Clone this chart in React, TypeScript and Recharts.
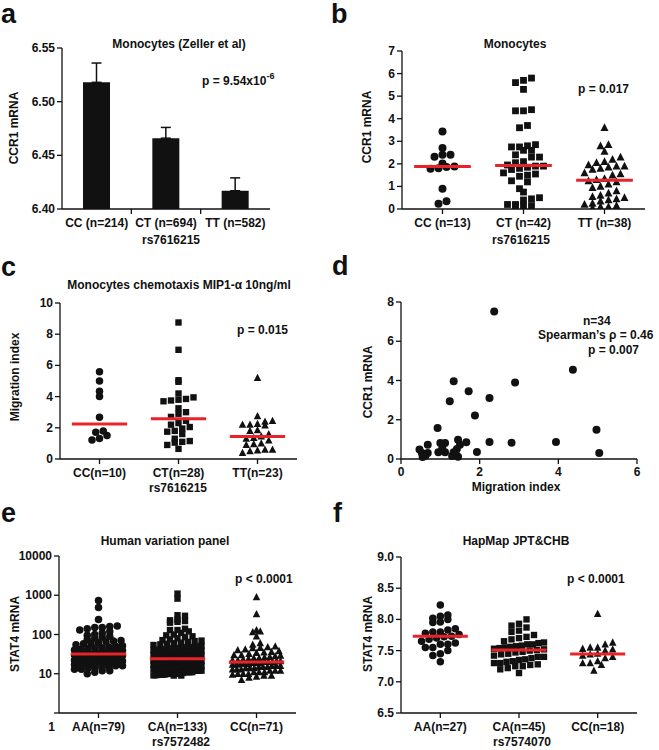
import {
  Bar, ComposedChart, ErrorBar, Scatter, ScatterChart, XAxis, YAxis,
} from 'recharts';

const INK = '#111';
const RED = '#e8232a';
const FONT = '"Liberation Sans", Arial, Helvetica, sans-serif';

// a - Monocytes (Zeller et al), mean + SEM
const aGroups = ['CC (n=214)', 'CT (n=694)', 'TT (n=582)'];
const aMean = [6.518, 6.466, 6.417];
const aSem = [0.018, 0.010, 0.012];
const aTicks = [6.40, 6.45, 6.50, 6.55];

// b - Monocytes CCR1 mRNA
const bGroups = ['CC (n=13)', 'CT (n=42)', 'TT (n=38)'];
const bCC = [3.43, 2.7, 2.4, 2.32, 2.4, 2.02, 1.88, 1.86, 1.8, 1.78, 0.9, 0.34, 0.23];
const bCT = [5.8, 5.7, 5.6, 5.3, 4.4, 4.35, 4.35, 3.7, 3.6, 2.85, 2.8, 2.75, 2.75, 2.6, 2.6, 2.4, 2.3, 2.3,
  2.1, 2.05, 1.95, 1.9, 1.9, 1.85, 1.8, 1.75, 1.6, 1.55, 1.5, 1.45, 1.25, 1.2, 0.9, 0.75, 0.5, 0.45, 0.4,
  0.2, 0.2, 0.15, 0.15, 0.15];
const bTT = [3.6, 2.85, 2.8, 2.55, 2.3, 2.2, 2.1, 2.05, 1.95, 1.9, 1.9, 1.85, 1.8, 1.75, 1.6, 1.55, 1.5, 1.35,
  1.3, 1.25, 1.2, 1.1, 1.0, 0.95, 0.8, 0.7, 0.6, 0.55, 0.5, 0.45, 0.4, 0.35, 0.25, 0.2, 0.15, 0.1, 0.1, 0.05];
const bTicks = [0, 1, 2, 3, 4, 5, 6, 7];

// c - chemotaxis migration index
const cGroups = ['CC(n=10)', 'CT(n=28)', 'TT(n=23)'];
const cCC = [5.6, 5.0, 4.35, 4.0, 2.68, 1.8, 1.72, 1.5, 1.32, 1.22];
const cCT = [8.75, 7.0, 5.05, 4.95, 4.2, 3.95, 3.85, 3.8, 3.75, 3.7, 3.25, 3.0, 2.9, 2.7, 2.45, 2.3, 2.2, 2.05,
  1.95, 1.8, 1.75, 1.6, 1.3, 1.15, 1.1, 1.05, 0.9, 0.65];
const cTT = [5.2, 2.75, 2.45, 2.4, 2.25, 2.2, 2.2, 2.15, 1.85, 1.8, 1.6, 1.45, 1.35, 1.3, 1.2, 1.0, 0.95, 0.9,
  0.6, 0.6, 0.55, 0.5, 0.4];
const cTicks = [0, 2, 4, 6, 8, 10];

// d - migration index vs CCR1 mRNA
const dMigration = [2.37, 4.37, 2.9, 1.34, 1.72, 2.25, 1.24, 1.88, 0.93, 4.97, 2.25, 2.81, 3.94, 5.04, 1.93, 1.66,
  1.45, 1.5, 1.42, 1.34, 1.4, 1.45, 1.12, 1.0, 1.12, 0.95, 1.05, 0.68, 0.68, 0.47, 0.53, 0.62, 0.55, 1.3];
const dCcr1 = [7.52, 4.55, 3.9, 3.96, 3.45, 3.11, 2.94, 2.22, 1.58, 1.49, 0.87, 0.83, 0.87, 0.31, 0.36, 0.85,
  0.98, 0.73, 0.51, 0.34, 0.22, 0.12, 0.81, 0.81, 0.34, 0.34, 0.55, 0.73, 0.31, 0.48, 0.31, 0.17, 0.1, 0.15];
const dXTicks = [0, 2, 4, 6];
const dYTicks = [0, 2, 4, 6, 8];

// e - Human variation panel STAT4 mRNA (log)
const eGroups = ['AA(n=79)', 'CA(n=133)', 'CC(n=71)'];
const eAA = [740, 490, 240, 165, 160, 150, 150, 140, 130, 120, 110, 100, 95, 90, 85, 80, 75, 70, 68, 65, 62, 60,
  58, 55, 52, 50, 48, 46, 45, 44, 42, 40, 39, 38, 37, 36, 35, 34, 33, 32, 32, 31, 30, 30, 29, 28, 28, 27, 26, 26,
  25, 25, 24, 24, 23, 22, 22, 21, 21, 20, 20, 19, 19, 18, 18, 17, 17, 16, 16, 15, 15, 14, 14, 13, 13, 12, 12, 11, 10];
const eCA = [1100, 820, 310, 300, 240, 230, 220, 210, 200, 140, 130, 130, 120, 110, 100, 95, 90, 85, 80, 75,
  72, 70, 68, 65, 62, 60, 58, 56, 54, 52, 50, 48, 47, 46, 45, 44, 43, 42, 41, 40, 39, 38, 37, 36, 35, 34, 33, 32,
  31, 30, 30, 29, 29, 28, 28, 27, 27, 27, 26, 26, 26, 26, 25, 25, 25, 24, 24, 24, 23, 23, 23, 22, 22, 22, 21, 21,
  21, 20, 20, 20, 19, 19, 19, 18, 18, 18, 17, 17, 17, 16, 16, 16, 15, 15, 15, 15, 14, 14, 14, 14, 13, 13, 13, 13,
  12, 12, 12, 12, 12, 11, 11, 11, 11, 11, 10.5, 10.5, 10.5, 10, 10, 10, 10, 10, 10, 9.8, 9.6, 9.5, 9.5, 9.4, 9.3,
  9.2, 9.1, 9, 9];
const eCC = [900, 330, 130, 120, 115, 90, 60, 55, 50, 48, 46, 45, 42, 40, 38, 36, 35, 34, 32, 30, 30, 29, 28, 27,
  26, 25, 25, 24, 23, 22, 22, 21, 21, 20, 20, 20, 19, 19, 19, 18, 18, 18, 17, 17, 16, 16, 16, 15, 15, 15, 14, 14,
  14, 13, 13, 13, 12, 12, 12, 11, 11, 11, 10, 10, 10, 9.5, 9, 9, 8.5, 8, 7];
const eTicks = [1, 10, 100, 1000, 10000];

// f - HapMap JPT&CHB STAT4 mRNA
const fGroups = ['AA(n=27)', 'CA(n=45)', 'CC(n=18)'];
const fAA = [8.23, 8.07, 8.05, 8.02, 8.0, 7.96, 7.95, 7.85, 7.83, 7.8, 7.8, 7.78, 7.76, 7.73, 7.72, 7.7, 7.68,
  7.65, 7.62, 7.6, 7.6, 7.55, 7.55, 7.5, 7.45, 7.42, 7.32];
const fCA = [8.0, 7.93, 7.9, 7.87, 7.82, 7.8, 7.75, 7.72, 7.7, 7.68, 7.65, 7.63, 7.62, 7.6, 7.6, 7.58, 7.57, 7.56,
  7.55, 7.54, 7.53, 7.52, 7.51, 7.5, 7.48, 7.47, 7.45, 7.44, 7.42, 7.4, 7.4, 7.38, 7.36, 7.35, 7.33, 7.32, 7.3,
  7.3, 7.28, 7.27, 7.25, 7.25, 7.22, 7.2, 7.14];
const fCC = [8.09, 7.63, 7.6, 7.55, 7.55, 7.53, 7.52, 7.5, 7.45, 7.44, 7.42, 7.4, 7.38, 7.33, 7.3, 7.3, 7.27, 7.18];
const fTicks = [6.5, 7.0, 7.5, 8.0, 8.5, 9.0];

type Box = { x0: number; y0: number; x1: number; y1: number };
const YW = 50, XH = 40, PT = 10, PR = 12;
const MARGIN = { top: PT, right: PR, bottom: 0, left: 0 };
const AXIS = { stroke: INK, strokeWidth: 1.3 };

const place = (p: Box) => ({ position: 'absolute' as const, left: p.x0 - YW, top: p.y0 - PT });
const size = (p: Box) => ({ width: p.x1 - p.x0 + YW + PR, height: p.y1 - p.y0 + PT + XH });

const median = (a: number[]) => {
  const s = [...a].sort((p, q) => p - q);
  const m = s.length >> 1;
  return s.length % 2 ? s[m] : (s[m - 1] + s[m]) / 2;
};

// GraphPad style scatter: points in the same row are spread side by side
function swarm(vals: number[], toPx: (v: number) => number, rowH: number, d: number, maxW: number) {
  const order = vals.map((_, i) => i).sort((a, b) => vals[a] - vals[b]);
  const rows = new Map<number, number[]>();
  order.forEach((i) => {
    const r = Math.round(toPx(vals[i]) / rowH);
    if (!rows.has(r)) rows.set(r, []);
    rows.get(r)!.push(i);
  });
  const out = new Array(vals.length).fill(0);
  rows.forEach((list) => {
    const n = list.length;
    const step = n > 1 ? Math.min(d, maxW / (n - 1)) : 0;
    list.forEach((i, k) => { out[i] = (k - (n - 1) / 2) * step; });
  });
  return out;
}

const circle = (r: number) => (p: any) => <circle cx={p.cx} cy={p.cy} r={r} fill={INK} />;
const square = (s: number) => (p: any) => <rect x={p.cx - s / 2} y={p.cy - s / 2} width={s} height={s} fill={INK} />;
const triangle = (s: number) => (p: any) => (
  <polygon
    points={`${p.cx},${p.cy - s * 0.55} ${p.cx - s / 2},${p.cy + s * 0.42} ${p.cx + s / 2},${p.cy + s * 0.42}`}
    fill={INK}
  />
);
const noDot = () => <g />;

const CatTick = ({ x, y, payload, labels }: any) => {
  const v = payload.value;
  if (Number.isInteger(v)) return <line x1={x} x2={x} y1={y - 5} y2={y} stroke={INK} strokeWidth={1.3} />;
  return (
    <text x={x} y={y + 13} textAnchor="middle" fontSize={12} fontWeight={700} fill={INK}>
      {labels[Math.floor(v)]}
    </text>
  );
};

const YTick = ({ x, y, payload, fmt, dropOne }: any) => {
  const low = dropOne && payload.value === 1;
  return (
    <text x={low ? x + 3 : x} y={low ? y + 18 : y + 4} textAnchor="end" fontSize={12} fontWeight={700} fill={INK}>
      {fmt ? fmt(payload.value) : payload.value}
    </text>
  );
};

interface DotProps {
  plot: Box;
  groups: string[];
  series: number[][];
  yDomain: [number, number];
  yTicks: number[];
  fmt?: (v: number) => string;
  log?: boolean;
  mark: number;
  rowH?: number;
  maxW: number;
}

function DotPanel({ plot, groups, series, yDomain, yTicks, fmt, log, mark, rowH, maxW }: DotProps) {
  const pw = plot.x1 - plot.x0;
  const ph = plot.y1 - plot.y0;
  const t = (v: number) => (log ? Math.log10(v) : v);
  const lo = t(yDomain[0]);
  const hi = t(yDomain[1]);
  const toPx = (v: number) => ((t(v) - lo) / (hi - lo)) * ph;
  const shapes = [circle(mark / 2), square(mark * 0.85), triangle(mark)];
  return (
    <div style={place(plot)}>
      <ScatterChart {...size(plot)} margin={MARGIN}>
        <XAxis
          type="number" dataKey="x" domain={[0, 3]} ticks={[0.5, 1.5, 2.5]} height={XH} interval={0}
          axisLine={AXIS} tickLine={AXIS} tickSize={5} tickMargin={0}
          tick={<CatTick labels={groups} />}
        />
        <YAxis
          type="number" dataKey="y" domain={yDomain} ticks={yTicks} width={YW} interval={0}
          scale={log ? 'log' : 'auto'} allowDataOverflow
          axisLine={AXIS} tickLine={AXIS} tickSize={5} tickMargin={2}
          tick={<YTick fmt={fmt} dropOne={log} />}
        />
        {series.map((vals, g) => {
          const off = swarm(vals, toPx, rowH ?? mark, mark, maxW);
          const data = vals.map((v, i) => ({ x: g + 0.5 + off[i] / (pw / 3), y: v }));
          return <Scatter key={g} data={data} shape={shapes[g]} isAnimationActive={false} />;
        })}
        {series.map((vals, g) => {
          const m = median(vals);
          return (
            <Scatter
              key={`m${g}`}
              data={[{ x: g + 0.15, y: m }, { x: g + 0.85, y: m }]}
              line={{ stroke: RED, strokeWidth: 3 }}
              shape={noDot}
              isAnimationActive={false}
            />
          );
        })}
      </ScatterChart>
    </div>
  );
}

const aPlot: Box = { x0: 62, y0: 48, x1: 270, y1: 209 };
const bPlot: Box = { x0: 402, y0: 51, x1: 645, y1: 209 };
const cPlot: Box = { x0: 60, y0: 303, x1: 297, y1: 459 };
const dPlot: Box = { x0: 401, y0: 302, x1: 637, y1: 459 };
const ePlot: Box = { x0: 59, y0: 556, x1: 296, y1: 713 };
const fPlot: Box = { x0: 401, y0: 557, x1: 637, y1: 713 };

const aData = aGroups.map((g, i) => ({ x: i + 0.5, mean: aMean[i], err: [0, aSem[i]] }));
const dData = dMigration.map((m, i) => ({ x: m, y: dCcr1[i] }));

const Txt = (p: any) => <text fontSize={12} fontWeight={700} fill={INK} {...p} />;
const Letter = (p: any) => <text fontSize={27} fontWeight={700} fill={INK} {...p} />;
const YLabel = ({ x, y, children }: any) => (
  <text transform={`translate(${x},${y}) rotate(-90)`} dy={4} textAnchor="middle" fontSize={12} fontWeight={700} fill={INK}>
    {children}
  </text>
);

export default function App() {
  return (
    <div style={{ position: 'relative', width: 659, height: 750, background: '#fff', fontFamily: FONT, overflow: 'hidden' }}>
      <style>{'body{margin:0}'}</style>

      <div style={place(aPlot)}>
        <ComposedChart {...size(aPlot)} data={aData} margin={MARGIN}>
          <XAxis
            type="number" dataKey="x" domain={[0, 3]} ticks={[0.5, 1, 1.5, 2, 2.5]} height={XH} interval={0}
            axisLine={AXIS} tickLine={false} tickSize={5} tickMargin={0}
            tick={<CatTick labels={aGroups} />}
          />
          <YAxis
            type="number" domain={[6.4, 6.55]} ticks={aTicks} width={YW} allowDataOverflow interval={0}
            axisLine={AXIS} tickLine={AXIS} tickSize={5} tickMargin={2}
            tick={<YTick fmt={(v: number) => v.toFixed(2)} />}
          />
          <Bar dataKey="mean" fill={INK} barSize={27} isAnimationActive={false}>
            <ErrorBar dataKey="err" direction="y" width={5} stroke={INK} strokeWidth={1.5} />
          </Bar>
        </ComposedChart>
      </div>

      <DotPanel plot={bPlot} groups={bGroups} series={[bCC, bCT, bTT]} yDomain={[0, 7]} yTicks={bTicks} mark={8} maxW={50} />
      <DotPanel plot={cPlot} groups={cGroups} series={[cCC, cCT, cTT]} yDomain={[0, 10]} yTicks={cTicks} mark={7.5} maxW={50} />

      <div style={place(dPlot)}>
        <ScatterChart {...size(dPlot)} margin={MARGIN}>
          <XAxis
            type="number" dataKey="x" domain={[0, 6]} ticks={dXTicks} height={XH} interval={0}
            axisLine={AXIS} tickLine={AXIS} tickSize={5} tickMargin={3}
            tick={{ fill: INK, fontSize: 12, fontWeight: 700 }}
          />
          <YAxis
            type="number" dataKey="y" domain={[0, 8]} ticks={dYTicks} width={YW} interval={0}
            axisLine={AXIS} tickLine={AXIS} tickSize={5} tickMargin={2}
            tick={<YTick />}
          />
          <Scatter data={dData} shape={circle(4)} isAnimationActive={false} />
        </ScatterChart>
      </div>

      <DotPanel
        plot={ePlot} groups={eGroups} series={[eAA, eCA, eCC]} yDomain={[1, 10000]} yTicks={eTicks} log
        mark={7.5} rowH={5} maxW={48}
      />
      <DotPanel
        plot={fPlot} groups={fGroups} series={[fAA, fCA, fCC]} yDomain={[6.5, 9]} yTicks={fTicks}
        fmt={(v: number) => v.toFixed(1)} mark={7.5} maxW={50}
      />

      <svg width={659} height={750} style={{ position: 'absolute', left: 0, top: 0, pointerEvents: 'none' }}>
        <Letter x={1} y={23}>a</Letter>
        <Letter x={331} y={23}>b</Letter>
        <Letter x={1} y={276}>c</Letter>
        <Letter x={332} y={275}>d</Letter>
        <Letter x={1} y={522}>e</Letter>
        <Letter x={333} y={522}>f</Letter>

        <Txt x={179} y={48} textAnchor="middle">Monocytes (Zeller et al)</Txt>
        <Txt x={202} y={85}>p = 9.54x10<tspan dy={-6} fontSize={9}>-6</tspan></Txt>
        <YLabel x={14} y={128}>CCR1 mRNA</YLabel>
        <Txt x={171} y={244} textAnchor="middle">rs7616215</Txt>

        <Txt x={515} y={48} textAnchor="middle">Monocytes</Txt>
        <Txt x={578} y={93}>p = 0.017</Txt>
        <YLabel x={367} y={127}>CCR1 mRNA</YLabel>
        <Txt x={521} y={244} textAnchor="middle">rs7616215</Txt>

        <Txt x={179} y={289} textAnchor="middle">Monocytes chemotaxis MIP1-α 10ng/ml</Txt>
        <Txt x={237} y={334}>p = 0.015</Txt>
        <YLabel x={15} y={377}>Migration index</YLabel>
        <Txt x={178} y={492} textAnchor="middle">rs7616215</Txt>

        <Txt x={583} y={325}>n=34</Txt>
        <Txt x={538} y={339}>Spearman’s ρ = 0.46</Txt>
        <Txt x={588} y={354}>p = 0.007</Txt>
        <YLabel x={368} y={382}>CCR1 mRNA</YLabel>
        <Txt x={516} y={491} textAnchor="middle">Migration index</Txt>

        <Txt x={165} y={545} textAnchor="middle">Human variation panel</Txt>
        <Txt x={235} y={583}>p &lt; 0.0001</Txt>
        <YLabel x={15} y={634}>STAT4 mRNA</YLabel>
        <Txt x={181} y={746} textAnchor="middle">rs7572482</Txt>

        <Txt x={516} y={545} textAnchor="middle">HapMap JPT&amp;CHB</Txt>
        <Txt x={567} y={583}>p &lt; 0.0001</Txt>
        <YLabel x={368} y={634}>STAT4 mRNA</YLabel>
        <Txt x={522} y={746} textAnchor="middle">rs7574070</Txt>
      </svg>
    </div>
  );
}
